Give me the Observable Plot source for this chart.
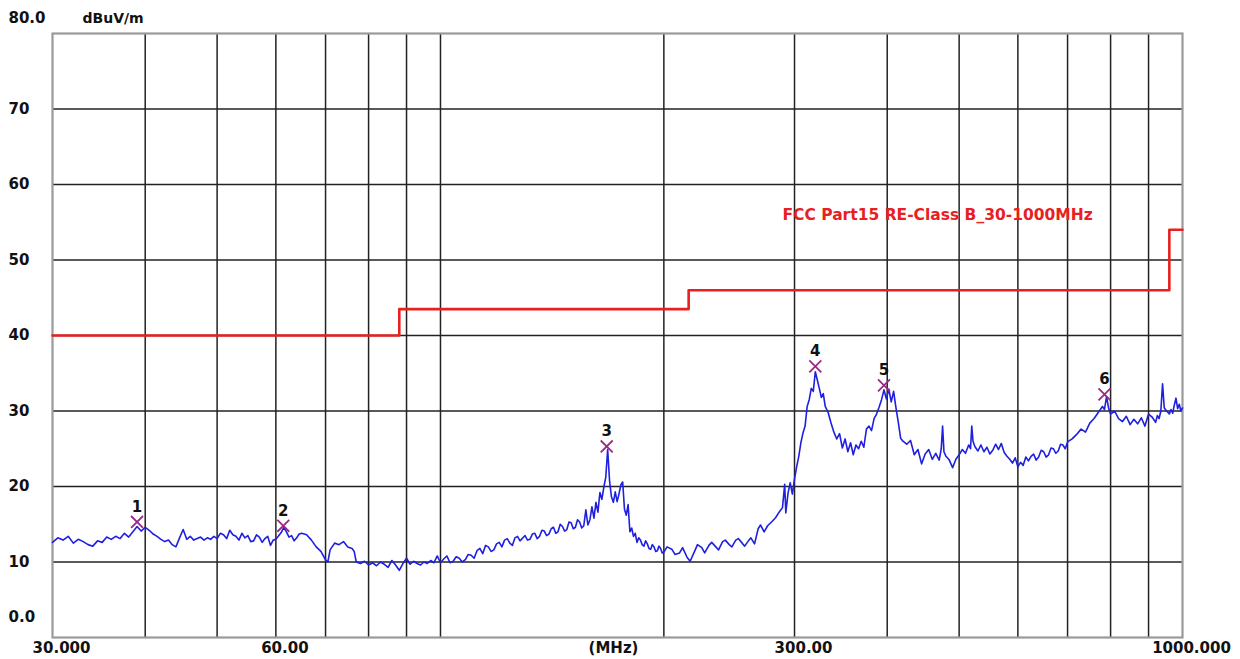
<!DOCTYPE html>
<html>
<head>
<meta charset="utf-8">
<script src="https://cdn.jsdelivr.net/npm/d3@7"></script>
<script src="https://cdn.jsdelivr.net/npm/@observablehq/plot@0.6"></script>
<style>
  html, body { margin: 0; padding: 0; background: #fff; }
  #chart { width: 1240px; height: 659px; }
</style>
</head>
<body>
<div id="chart"></div>
<script>
// ---- Data ----
// Measured trace: [frequency MHz, level dBuV/m]
const trace = [
  [30,12.6],[30.5,13.2],[31,12.9],[31.5,13.4],[32,12.5],[32.5,13.0],[33,12.7],[33.5,12.3],[34,12.1],[34.5,12.8],
  [35,12.6],[35.5,13.3],[36,13.0],[36.5,13.4],[37,13.1],[37.5,13.8],[38,13.3],[38.5,14.0],[39,14.7],[39.5,14.1],
  [40,14.6],[40.5,14.2],[41,13.7],[41.5,13.4],[42,13.0],[42.5,12.7],[43,12.9],[43.5,12.3],[44,12.0],[44.5,13.2],
  [45,14.3],[45.5,13.0],[46,13.4],[46.5,12.9],[47,13.1],[47.5,13.3],[48,12.9],[48.5,13.2],[49,13.0],[49.5,13.4],
  [50,13.1],[50.5,13.8],[51,13.6],[51.5,13.1],[52,14.2],[52.5,13.6],[53,13.4],[53.5,12.9],[54,13.8],[54.5,13.2],
  [55,13.5],[55.5,12.7],[56,12.8],[56.5,13.6],[57,13.3],[57.5,12.6],[58,13.1],[58.5,13.4],[59,12.2],[59.5,12.9],
  [60,13.0],[61,13.9],[61.5,14.6],[62,14.0],[62.5,13.3],[63,13.5],[63.5,12.8],[64,13.2],[64.5,13.7],[65,13.8],
  [66,13.6],[67,12.9],[68,12.0],[69,11.4],[70,10.3],[70.5,10.0],[71,11.6],[72,12.5],[73,12.3],[74,12.7],
  [75,12.0],[76,11.8],[76.5,11.4],[77,10.0],[78,9.8],[79,10.1],[80,9.6],[81,9.9],[82,9.5],[83,10.0],
  [84,9.7],[85,9.3],[86,10.2],[87,9.6],[88,8.9],[89,9.8],[90,10.5],[91,9.7],[92,10.1],[93,9.8],
  [94,9.6],[95,10.0],[96,9.8],[97,10.2],[98,9.9],[99,10.8],[100,9.9],[101,10.4],[102,10.8],[103,9.9],
  [104,10.1],[105,10.7],[106,10.5],[107,10.0],[108,10.3],[109,11.0],[110,10.9],[111,10.5],[112,11.5],[113,11.8],
  [114,11.1],[115,12.2],[116,12.0],[117,11.4],[118,11.6],[119,12.4],[120,12.6],[121,12.0],[122,12.9],[123,13.1],
  [124,12.5],[125,12.2],[126,13.2],[127,13.4],[128,12.8],[130,13.5],[131,12.9],[132,13.0],[133,13.7],[134,13.8],
  [135,13.1],[136,13.4],[137,14.2],[138,14.1],[139,13.5],[140,13.7],[141,14.4],[142,14.6],[143,13.8],[144,14.0],
  [145,15.0],[146,14.7],[147,14.1],[148,14.3],[149,15.3],[150,15.2],[151,14.4],[152,14.6],[153,15.6],[154,15.3],
  [155,14.5],[156,14.8],[157,16.9],[158,14.9],[159,15.6],[160,17.3],[161,15.8],[162,17.9],[163,16.6],[164,19.2],
  [165,18.3],[166,19.9],[167,21.2],[168,24.9],[169,20.7],[170,18.6],[171,17.9],[172,19.3],[173,18.0],[174,19.0],
  [175,20.2],[176,20.6],[177,17.0],[178,16.2],[179,17.6],[180,14.0],[181,14.5],[182,13.4],[183,13.8],[184,12.6],
  [185,13.2],[186,12.9],[187,12.3],[188,12.1],[189,12.8],[190,12.4],[191,11.8],[192,11.7],[193,12.3],[194,12.0],
  [195,11.4],[196,11.5],[197,12.1],[198,11.8],[199,11.2],[200,11.3],[202,12.0],[205,11.7],[207,11.0],[210,11.2],
  [212,11.9],[215,10.6],[217,10.1],[220,11.4],[222,12.3],[225,11.9],[227,11.2],[230,12.2],[232,12.6],[235,12.0],
  [237,11.6],[240,12.7],[242,12.9],[245,12.3],[247,12.0],[250,12.9],[252,13.1],[255,12.5],[257,12.1],[260,12.8],
  [262,13.2],[265,12.4],[268,14.4],[270,14.9],[273,14.0],[276,14.8],[280,15.4],[283,15.9],[286,16.6],[289,17.2],
  [291,20.3],[292,16.5],[294,19.1],[296,20.5],[298,19.0],[300,21.0],[302,22.6],[304,24.0],[306,25.8],[308,27.1],
  [310,28.0],[312,30.6],[314,31.5],[316,33.0],[318,32.6],[320,35.2],[322,34.1],[324,33.0],[326,31.8],[328,32.3],
  [330,30.6],[333,29.8],[336,28.4],[339,27.2],[342,26.3],[345,27.0],[348,25.1],[351,26.3],[354,24.6],[357,25.8],
  [360,24.2],[363,25.5],[366,25.0],[369,26.0],[372,25.2],[375,27.6],[378,28.0],[381,27.4],[384,29.0],[387,29.6],
  [390,30.5],[393,31.5],[396,32.8],[399,31.6],[402,32.9],[405,31.2],[408,32.6],[411,30.4],[414,28.5],[417,26.4],
  [420,26.0],[425,25.6],[430,26.1],[435,24.2],[440,24.9],[445,23.0],[450,24.3],[455,24.9],[460,23.6],[465,24.4],
  [470,23.5],[473,25.0],[475,28.0],[477,24.6],[480,24.0],[485,23.5],[490,22.5],[495,23.6],[500,24.2],[505,24.9],
  [510,24.4],[515,25.5],[518,25.0],[520,28.0],[522,26.0],[525,25.3],[530,24.7],[535,25.5],[540,24.6],[545,25.2],
  [550,24.3],[555,24.8],[560,25.6],[565,24.9],[570,25.7],[575,24.5],[580,24.0],[585,23.6],[590,23.1],[595,23.8],
  [600,22.6],[605,23.2],[610,22.8],[615,23.9],[620,23.4],[625,24.0],[630,24.3],[635,23.5],[640,23.9],[645,24.8],
  [650,24.6],[655,23.9],[660,24.2],[665,25.1],[670,25.0],[675,24.4],[680,24.7],[685,25.6],[690,25.5],[695,25.0],
  [700,25.9],[710,26.3],[720,26.9],[730,27.6],[740,27.2],[750,28.4],[760,29.0],[770,29.8],[780,30.6],[785,30.2],
  [790,31.9],[795,30.4],[800,29.6],[810,30.0],[820,29.0],[830,28.6],[840,29.3],[850,28.2],[860,28.9],[870,28.3],
  [880,29.1],[890,28.0],[900,29.6],[910,29.2],[920,28.5],[925,29.4],[930,29.0],[935,30.0],[940,33.6],[945,30.4],
  [950,30.1],[960,29.6],[965,30.2],[970,29.7],[975,30.8],[980,31.7],[985,30.3],[990,30.9],[995,30.0],[1000,30.4]
];

// Limit line (FCC Part15 Class B, step)
const limitFreq  = [30, 88, 216, 960, 1000];
const limitLevel = [40, 43.5, 46, 54, 54];
const limitName  = "FCC Part15 RE-Class B_30-1000MHz";

// Markers
const markerFreq  = [39.0, 61.4, 167.5, 320, 396, 785];
const markerLevel = [15.3, 14.8, 25.3, 35.9, 33.4, 32.2];
const markerLabel = ["1", "2", "3", "4", "5", "6"];

// Axes / grid
const xGrid = [40, 50, 60, 70, 80, 90, 100, 200, 300, 400, 500, 600, 700, 800, 900];
const yGrid = [10, 20, 30, 40, 50, 60, 70];
const xTickVals   = [30, 60, 300, 1000];
const xTickLabels = ["30.000", "60.00", "300.00", "1000.000"];
const yTickVals   = [70, 60, 50, 40, 30, 20, 10];
const yTickLabels = ["70", "60", "50", "40", "30", "20", "10"];
const yTopLabel = "80.0", yBottomLabel = "0.0";
const yUnit = "dBuV/m", xUnit = "(MHz)";

// ---- Build tables ----
const traceData  = trace.map(([f, v]) => ({f, v}));
const limitData  = limitFreq.map((f, i) => ({f, v: limitLevel[i]}));
const markerData = markerFreq.map((f, i) => ({f, v: markerLevel[i], label: markerLabel[i]}));

const FONT = "DejaVu Sans";

const chart = Plot.plot({
  width: 1240,
  height: 659,
  marginLeft: 52,
  marginRight: 58,
  marginTop: 33,
  marginBottom: 22,
  style: {background: "#fff", fontFamily: FONT},
  x: {type: "log", domain: [30, 1000], axis: null},
  y: {domain: [0, 80], axis: null},
  marks: [
    Plot.ruleX(xGrid, {stroke: "#222", strokeWidth: 1.5}),
    Plot.ruleY(yGrid, {stroke: "#222", strokeWidth: 1.5}),
    Plot.frame({stroke: "#9a9a9a", strokeWidth: 2.2}),
    // limit
    Plot.line(limitData, {x: "f", y: "v", curve: "step-after", stroke: "#e8201f", strokeWidth: 2.6}),
    Plot.text([limitName], {x: [289], y: [55.9], text: d => d, textAnchor: "start",
      fill: "#e8201f", fontSize: 15.5, fontWeight: "bold", fontFamily: FONT}),
    // trace
    Plot.line(traceData, {x: "f", y: "v", stroke: "#1f1fe0", strokeWidth: 1.6}),
    // markers
    Plot.dot(markerData, {x: "f", y: "v", symbol: "times", r: 5.5, stroke: "#9b2a86", strokeWidth: 1.8}),
    Plot.text(markerData, {x: "f", y: "v", text: "label", dy: -15, fill: "#111",
      fontSize: 15, fontWeight: "bold", fontFamily: FONT}),
    // y tick labels
    Plot.text(yTickVals, {y: d => d, text: (d, i) => yTickLabels[i], frameAnchor: "left", dx: -44,
      textAnchor: "start", fontSize: 15, fontWeight: "bold", fill: "#111", fontFamily: FONT}),
    Plot.text([80], {y: d => d, text: [yTopLabel], frameAnchor: "left", dx: -44, dy: -15,
      textAnchor: "start", fontSize: 15, fontWeight: "bold", fill: "#111", fontFamily: FONT}),
    Plot.text([0], {y: d => d, text: [yBottomLabel], frameAnchor: "left", dx: -44, dy: -20,
      textAnchor: "start", fontSize: 15, fontWeight: "bold", fill: "#111", fontFamily: FONT}),
    Plot.text([80], {y: d => d, text: [yUnit], frameAnchor: "left", dx: 30, dy: -15,
      textAnchor: "start", fontSize: 14, fontWeight: "bold", fill: "#111", fontFamily: FONT}),
    // x tick labels
    Plot.text(xTickVals, {x: d => d, text: (d, i) => xTickLabels[i], frameAnchor: "bottom", dy: 11, dx: 9,
      lineAnchor: "middle", fontSize: 15, fontWeight: "bold", fill: "#111", fontFamily: FONT}),
    Plot.text([xUnit], {text: d => d, frameAnchor: "bottom", dy: 11, dx: -4,
      lineAnchor: "middle", fontSize: 15, fontWeight: "bold", fill: "#111", fontFamily: FONT})
  ]
});

document.getElementById("chart").appendChild(chart);
</script>
</body>
</html>
